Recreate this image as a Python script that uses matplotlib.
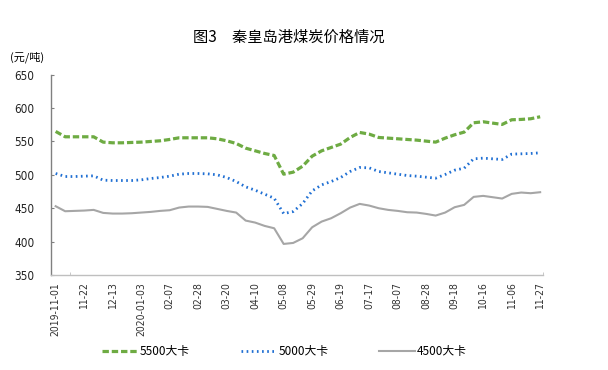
import matplotlib
matplotlib.use("Agg")
import matplotlib.pyplot as plt

plt.rcParams['font.family'] = ['Noto Sans CJK SC', 'DejaVu Sans']

dates = ["2019-11-01", "11-08", "11-15", "11-22", "11-29", "12-06", "12-13", "12-20", "12-27",
         "2020-01-03", "01-10", "01-17", "02-07", "02-14", "02-21", "02-28", "03-06", "03-13",
         "03-20", "03-27", "04-03", "04-10", "04-17", "04-24", "05-08", "05-15", "05-22",
         "05-29", "06-05", "06-12", "06-19", "07-03", "07-10", "07-17", "07-24", "07-31",
         "08-07", "08-14", "08-21", "08-28", "09-04", "09-11", "09-18", "09-25", "10-09",
         "10-16", "10-23", "10-30", "11-06", "11-13", "11-20", "11-27"]

kcal5500 = [565, 557, 557, 557, 557, 549, 548, 548, 548.5, 549, 550, 551, 553, 555.5, 555.5,
            555.5, 555.5, 554, 551, 547, 540, 536, 532, 529, 501, 504, 513, 528, 536, 541,
            546, 556, 563.5, 561, 556, 555, 554, 553, 552, 550.5, 549, 555, 560, 564, 578,
            579.5, 577.5, 575.5, 582.5, 583, 584, 587]

kcal5000 = [502, 497.5, 497.5, 498, 498.5, 492, 491.5, 491.5, 491.5, 492.5, 494.5, 496, 498,
            501, 502, 502, 501.5, 500, 496, 490, 482, 477, 471, 465, 442, 445, 457, 476, 485,
            490, 496, 505, 511, 510.5, 505, 503, 501, 499, 498, 496.5, 495, 500.5, 507, 510,
            524, 525, 524, 523, 531, 531.5, 532, 533]

kcal4500 = [453, 445.5, 446, 446.5, 447.5, 443, 442, 442, 442.5, 443.5, 444.5, 446, 447, 451,
            452.5, 452.5, 452, 449, 446, 443.5, 431.5, 428.5, 423.5, 420, 396.5, 398, 405,
            421.5, 430, 435, 442.5, 451, 456.5, 454, 450, 447.5, 446, 444, 443.5, 441.5, 439,
            443.5, 451.5, 455, 467, 468.5, 466.5, 464.5, 471.5, 473.5, 472.5, 474]

series_names = ["5500大卡", "5000大卡", "4500大卡"]
yticks = [350, 400, 450, 500, 550, 600, 650]

fig = plt.figure(figsize=(6.08, 3.70), dpi=100)
ax = fig.add_axes([0.0839, 0.2568, 0.8092, 0.5413])

x = list(range(len(dates)))
green = '#6eab43'
blue = '#1f6fd3'
gray = '#a6a6a6'

l1, = ax.plot(x, kcal5500, color=green, lw=2.3, linestyle=(0, (2.0, 0.9)))
l2, = ax.plot(x, kcal5000, color=blue, lw=2.0, linestyle=(0, (0.6, 1.25)))
l3, = ax.plot(x, kcal4500, color=gray, lw=1.5, linestyle='-')

ax.set_xlim(-0.49, 51.3)
ax.set_ylim(350, 650)
ax.set_yticks(yticks)
ax.set_yticklabels([str(v) for v in yticks], fontsize=8.5, family='DejaVu Sans',
                   stretch='condensed', color='#222222')
ax.tick_params(axis='y', direction='in', length=2.5, color='#808080', pad=12)

tick_pos = x[::3]
ax.set_xticks(tick_pos)
ax.set_xticklabels([dates[i] for i in tick_pos], rotation=90, fontsize=7.5,
                   family='DejaVu Sans', stretch='condensed', color='#333333')
ax.tick_params(axis='x', length=0, pad=5)
ax.set_xticks([1.5, 51.3], minor=True)
ax.tick_params(axis='x', which='minor', direction='in', length=2.5, color='#bfbfbf')

for s in ['top', 'right']:
    ax.spines[s].set_visible(False)
ax.spines['left'].set_color('#808080')
ax.spines['bottom'].set_color('#bfbfbf')
ax.spines['left'].set_linewidth(1.0)
ax.spines['bottom'].set_linewidth(1.0)

fig.text(0.475, 0.90, "图3　秦皇岛港煤炭价格情况", ha='center', va='center', fontsize=11,
         fontweight='medium')
fig.text(0.017, 0.845, "(元/吨)", ha='left', va='center', fontsize=8)

fig.legend([l1, l2, l3], series_names, loc='center', bbox_to_anchor=(0.468, 0.049), ncol=3,
           frameon=False, fontsize=8.5, handlelength=3.0, columnspacing=4.3, handletextpad=0.2)

fig.savefig("out.png", dpi=100)
